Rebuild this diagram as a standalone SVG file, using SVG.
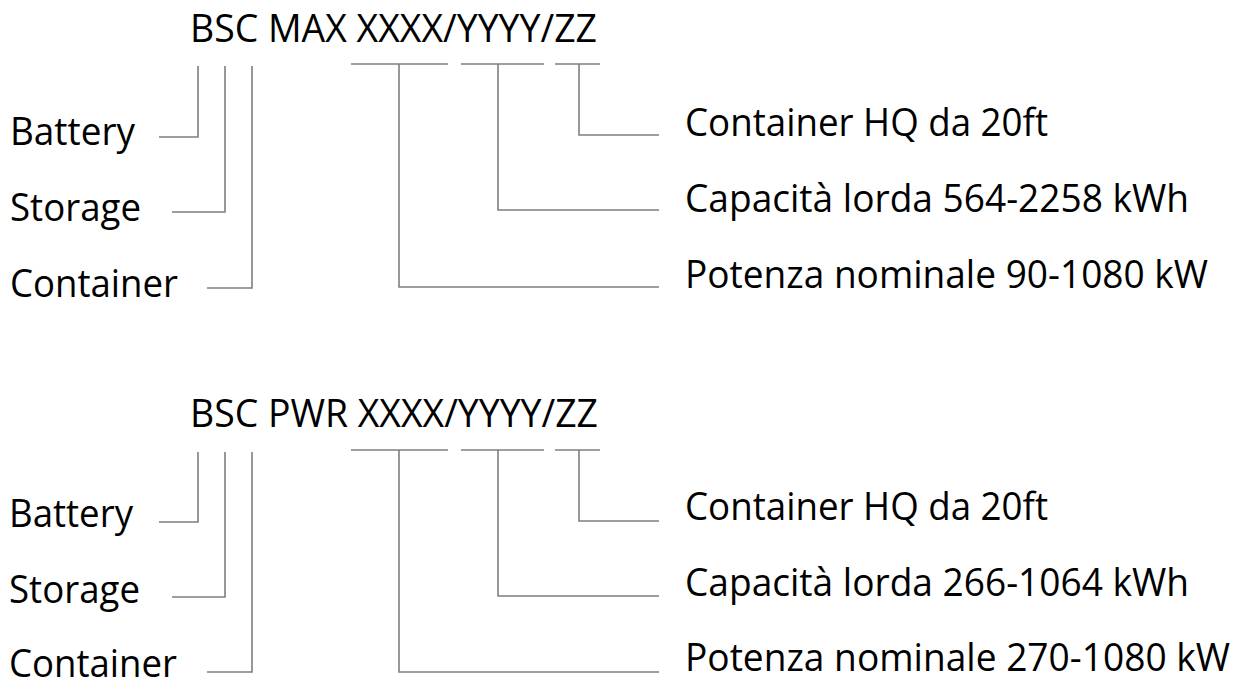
<svg xmlns="http://www.w3.org/2000/svg" width="1245" height="686" viewBox="0 0 1245 686">
  <style>
    text { font-family: "Open Sans", "Noto Sans", "Liberation Sans", sans-serif; font-size: 38px; fill: #000000; }
    .ln { fill: none; stroke: #7f7f7f; stroke-width: 1.6; }
  </style>
  <rect x="0" y="0" width="1245" height="686" fill="#ffffff"/>

  <!-- ===== Top section: BSC MAX ===== -->
  <g id="title-max"><text x="190" y="42" textLength="407" lengthAdjust="spacingAndGlyphs">BSC MAX XXXX/YYYY/ZZ</text></g>
  <g id="max-battery"><text x="10" y="145" textLength="125" lengthAdjust="spacingAndGlyphs">Battery</text></g>
  <g id="max-storage"><text x="10" y="221" textLength="131" lengthAdjust="spacingAndGlyphs">Storage</text></g>
  <g id="max-container"><text x="10" y="297" textLength="168" lengthAdjust="spacingAndGlyphs">Container</text></g>
  <g id="max-zz"><text x="685" y="136" textLength="363" lengthAdjust="spacingAndGlyphs">Container HQ da 20ft</text></g>
  <g id="max-yyyy"><text x="685" y="212" textLength="504" lengthAdjust="spacingAndGlyphs">Capacità lorda 564-2258 kWh</text></g>
  <g id="max-xxxx"><text x="685" y="288" textLength="523" lengthAdjust="spacingAndGlyphs">Potenza nominale 90-1080 kW</text></g>

  <!-- ===== Bottom section: BSC PWR ===== -->
  <g id="title-pwr"><text x="190" y="427" textLength="408" lengthAdjust="spacingAndGlyphs">BSC PWR XXXX/YYYY/ZZ</text></g>
  <g id="pwr-battery"><text x="9" y="527" textLength="124" lengthAdjust="spacingAndGlyphs">Battery</text></g>
  <g id="pwr-storage"><text x="9" y="603" textLength="131" lengthAdjust="spacingAndGlyphs">Storage</text></g>
  <g id="pwr-container"><text x="9" y="677" textLength="168" lengthAdjust="spacingAndGlyphs">Container</text></g>
  <g id="pwr-zz"><text x="685" y="520" textLength="363" lengthAdjust="spacingAndGlyphs">Container HQ da 20ft</text></g>
  <g id="pwr-yyyy"><text x="685" y="596" textLength="504" lengthAdjust="spacingAndGlyphs">Capacità lorda 266-1064 kWh</text></g>
  <g id="pwr-xxxx"><text x="685" y="671" textLength="545" lengthAdjust="spacingAndGlyphs">Potenza nominale 270-1080 kW</text></g>

  <!-- ===== Connectors ===== -->
  <g id="connectors">
    <!-- top left -->
    <polyline class="ln" points="198,66 198,137 159,137"/>
    <polyline class="ln" points="225,66 225,212 172,212"/>
    <polyline class="ln" points="252,66 252,288 207,288"/>
    <!-- top right brackets -->
    <line class="ln" x1="351" y1="64" x2="448" y2="64"/>
    <line class="ln" x1="461" y1="64" x2="544" y2="64"/>
    <line class="ln" x1="555" y1="64" x2="600" y2="64"/>
    <polyline class="ln" points="399,64 399,287 659,287"/>
    <polyline class="ln" points="498,64 498,210 659,210"/>
    <polyline class="ln" points="579,64 579,135 659,135"/>

    <!-- bottom left -->
    <polyline class="ln" points="198,452 198,522 159,522"/>
    <polyline class="ln" points="225,452 225,597 172,597"/>
    <polyline class="ln" points="252,452 252,672 207,672"/>
    <!-- bottom right brackets -->
    <line class="ln" x1="351" y1="450" x2="448" y2="450"/>
    <line class="ln" x1="461" y1="450" x2="544" y2="450"/>
    <line class="ln" x1="555" y1="450" x2="600" y2="450"/>
    <polyline class="ln" points="399,450 399,672 659,672"/>
    <polyline class="ln" points="498,450 498,596 659,596"/>
    <polyline class="ln" points="579,450 579,521 659,521"/>
  </g>
</svg>
